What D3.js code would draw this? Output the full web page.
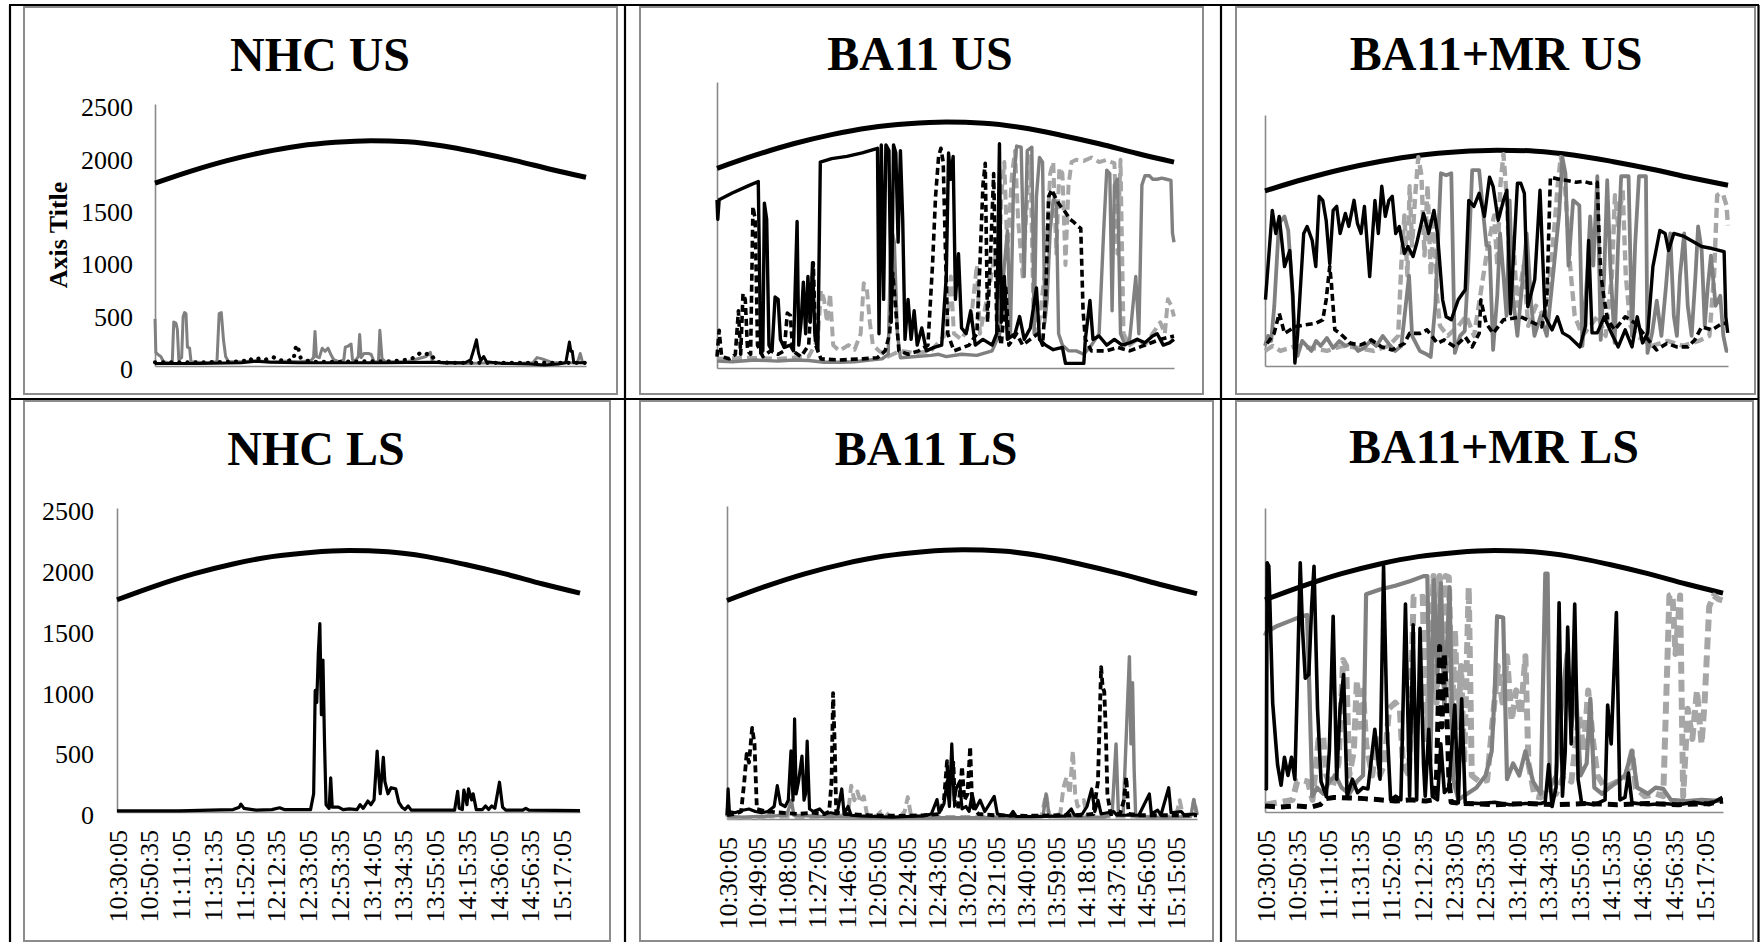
<!DOCTYPE html>
<html>
<head>
<meta charset="utf-8">
<script src="https://cdn.jsdelivr.net/npm/d3@7"></script>
<style>
  html, body { margin: 0; padding: 0; background: #fff; }
  svg { display: block; }
</style>
</head>
<body>
<svg id="chart" width="1760" height="942"></svg>
<script>
// Time is in minutes after 10:30:05; values in W/m².
const timeDomain = [0, 299];
const yTicks = [0, 500, 1000, 1500, 2000, 2500];

const labelsA = ["10:30:05","10:50:35","11:11:05","11:31:35","11:52:05","12:12:35","12:33:05","12:53:35",
  "13:14:05","13:34:35","13:55:05","14:15:35","14:36:05","14:56:35","15:17:05"];
const labelsB = ["10:30:05","10:49:05","11:08:05","11:27:05","11:46:05","12:05:05","12:24:05","12:43:05",
  "13:02:05","13:21:05","13:40:05","13:59:05","14:18:05","14:37:05","14:56:05","15:15:05"];

// Clear-sky reference curve shared by every panel
const clearSky = [[0,1745],[25,1860],[50,1960],[75,2040],[100,2100],[125,2135],[150,2150],[175,2140],
  [200,2100],[225,2035],[250,1960],[275,1875],[299,1800]];

// ---- NHC US ----
const nhcUsGrey = [[0,450],[0.6,130],[2,110],[4,90],[6,40],[10,30],[12,40],[13,420],[14.5,410],[15.5,350],[16.5,60],
  [18.5,80],[19.5,470],[20.5,510],[21.5,500],[22.5,180],[24,170],[25,40],[35,30],[43,40],[44.5,500],[46,510],[47.5,250],
  [49,90],[51,40],[60,40],[70,50],[80,40],[90,45],[100,40],[108,50],[110,80],[111,330],[112,90],[114,80],[116,170],
  [118,140],[120,170],[122,110],[124,60],[128,40],[131,60],[132,180],[134,190],[136,210],[137,60],[139,50],[141,90],
  [142,300],[143,80],[145,120],[148,120],[150,110],[152,40],[155,40],[156,340],[157.5,70],[160,40],[175,40],[188,90],
  [191,130],[192.5,40],[200,25],[215,25],[235,30],[250,25],[262,30],[265,80],[268,70],[272,50],[276,30],[285,30],
  [293,30],[295,120],[296.5,40],[299,20]];
const nhcUsBlack = [[0,25],[30,25],[60,30],[70,45],[80,35],[100,30],[130,30],[160,30],[190,35],[215,30],[219,60],
  [221,150],[223,250],[224.5,120],[226,50],[228,90],[230,40],[240,25],[260,20],[270,10],[280,20],[285,30],[286.5,150],
  [287.5,230],[288.5,140],[289.5,140],[290.5,30],[299,30]];
const nhcUsDot = [[0,35],[30,35],[55,40],[62,50],[65,75],[68,50],[72,70],[75,55],[79,70],[82,85],[86,55],[92,50],
  [96,60],[98,200],[99.5,160],[101,80],[104,55],[110,40],[130,40],[150,45],[165,45],[175,60],[180,80],[184,125],
  [187,110],[190,120],[192,100],[195,40],[205,30],[230,30],[260,30],[299,30]];

// ---- BA11 US ----
const ba11UsBlack = [[0,1470],[0.5,1300],[1.4,1470],[10,1530],[20,1590],[27,1630],[28.6,130],[30,150],[31,1440],
  [32.5,1300],[34,200],[36,150],[38,620],[40,600],[41.5,250],[44,180],[48,200],[50,150],[52.4,1280],[53.5,200],[55,400],
  [56.5,750],[58,300],[59.5,800],[61,400],[62.5,920],[64,300],[66,150],[67.6,1800],[75,1830],[85,1850],[95,1880],
  [100,1900],[105,1920],[106,300],[107.5,1950],[109,600],[110.5,1950],[112.5,1900],[114,400],[115.5,1950],[117,1880],
  [118.5,1100],[120,1900],[121.5,1300],[123,250],[125,600],[127,250],[129,500],[131,200],[134,350],[137,150],[142,180],
  [147,200],[150,800],[151.5,1880],[153,1650],[154.5,1850],[156,600],[158,1000],[160,350],[163,300],[166,500],
  [169,200],[174,250],[180,200],[183,300],[184.8,1960],[186,400],[188,800],[190,250],[195,300],[198,450],[201,250],
  [205,350],[209,700],[211,250],[215,200],[220,160],[226,180],[228,40],[234,40],[240,40],[241,250],[244,590],[246,250],
  [250,280],[255,200],[260,250],[265,200],[270,220],[275,250],[280,220],[285,280],[288,300],[292,200],[296,220],[299,250]];
const ba11UsDash = [[0,100],[1.4,330],[3,100],[8,80],[12,120],[14,500],[15.5,120],[17,650],[18.5,600],[20,150],
  [22,120],[23.5,1410],[25,1300],[26.5,200],[30,100],[35,150],[40,120],[44,150],[46,480],[48,460],[49.5,150],[55,100],
  [60,200],[63,920],[64.5,200],[68,80],[80,70],[95,80],[105,90],[110,150],[113,300],[115,830],[117,500],[119,150],
  [125,120],[132,150],[138,200],[141,900],[143,1500],[145,1850],[146.5,1920],[148,1800],[149.5,1000],[151,300],
  [155,150],[165,200],[170,300],[172,900],[174,1600],[175.5,1790],[177,400],[179,1000],[181,1700],[183,400],[186,200],
  [189,700],[191,200],[196,300],[200,200],[205,250],[210,300],[213,200],[215,600],[217,1500],[219,1560],[221,1500],
  [223,1450],[225,1410],[227,1380],[229,1340],[231,1300],[233,1280],[236,1240],[238,1220],[239.5,500],[241,250],
  [245,150],[255,150],[262,180],[270,150],[280,200],[290,250],[299,280]];
const ba11UsGrey = [[0,60],[10,55],[25,70],[40,60],[50,70],[60,65],[70,50],[80,50],[90,55],[100,70],[108,80],
  [112,120],[114,1230],[116,1100],[118,300],[120,90],[130,100],[140,110],[145,120],[150,100],[160,120],[170,110],
  [180,150],[185,300],[188,900],[190,1200],[192,300],[194,1600],[196,1940],[199,1930],[201,800],[203,1900],[206,1930],
  [207.5,300],[209,1500],[211,1840],[213,1800],[214.5,400],[216,600],[218,1200],[220,1470],[222,1450],[223.5,300],
  [226,200],[230,150],[235,150],[240,120],[245,200],[250,300],[253,1200],[255,1730],[257,1700],[258.5,500],[260,1600],
  [262,1650],[264,300],[267,200],[270,250],[274,800],[276,300],[278,1600],[280,1680],[283,1680],[285,1650],[288,1650],
  [291,1660],[294,1650],[297,1640],[298,1180],[299,1100]];
const ba11UsLtDash = [[0,80],[20,90],[40,80],[60,100],[66,250],[68,680],[70,600],[72,400],[74,650],[76,200],[80,150],
  [86,200],[90,160],[94,300],[96,740],[98,700],[100,400],[102,200],[106,150],[112,100],[120,150],[130,130],[140,150],
  [150,300],[153,800],[155,300],[160,250],[166,400],[170,900],[172,300],[178,700],[182,1000],[184,600],[186,1500],
  [188,1800],[190,1000],[193,1700],[195,1900],[197,1300],[200,800],[203,1500],[205,1850],[207,500],[210,300],[215,900],
  [218,1700],[220,1800],[222,1000],[224,1750],[226,1700],[228,900],[230,1600],[232,1800],[235,1820],[240,1810],
  [245,1840],[250,1800],[255,1820],[258,1800],[260,1790],[262,1000],[264,1820],[266,300],[270,200],[275,250],[280,200],
  [285,300],[290,400],[293,300],[295,600],[297,550],[299,450]];

// ---- BA11+MR US ----
const ba11mrUsBlack = [[0.3,660],[4.7,1550],[7,1320],[9.2,1490],[12.6,990],[16,1150],[18,700],[19.3,30],[21,300],
  [25,1320],[27.2,1390],[30.5,1250],[32.8,990],[35,1690],[37.3,1650],[39.5,1450],[41.8,1020],[44,1550],[46.3,1590],
  [48.5,1320],[51.9,1520],[54.1,1390],[57.5,1650],[59.7,1420],[62,1320],[64.2,1590],[67.6,890],[71,1650],[73.2,1320],
  [75.4,1790],[77.7,1490],[80,1650],[82.2,1690],[84.4,1320],[86.7,1390],[90,1120],[92.3,1190],[95.6,1090],[97.9,1220],
  [102.4,1520],[105.7,1320],[109.1,1550],[111.4,1320],[114.7,660],[117,490],[120.3,460],[124.8,660],[129.3,760],
  [131.6,1650],[134.9,1590],[138.3,1720],[141.7,1490],[145,1880],[147.3,1790],[150.6,1450],[154,1650],[156.2,1750],
  [158.5,520],[163,1820],[165.2,1820],[167.5,1720],[169.7,590],[174.2,860],[177.6,1750],[180.9,490],[185.4,360],
  [188.8,490],[192.2,330],[196.6,290],[203.4,190],[207,400],[209,1250],[211.2,330],[214.6,330],[219.1,490],[223.6,330],
  [228.1,190],[232.6,360],[237,190],[240.4,490],[243.8,230],[247.2,330],[250.5,990],[255,1350],[258.4,1320],
  [260.6,1150],[264,1320],[270.7,1290],[275.2,1250],[282,1190],[288.7,1170],[296.5,1140],[297.6,490],[298.8,330]];
const ba11mrUsDash = [[1.4,225],[5.9,325],[9.2,525],[12.6,325],[19.3,390],[26.1,410],[32.8,425],[37.3,460],[39.5,660],
  [41.8,990],[42.9,820],[45.1,360],[48.5,325],[55.2,225],[62,210],[68.7,260],[75.4,190],[82.2,160],[90,225],[93.4,325],
  [100.1,325],[104.6,360],[111.4,225],[115.8,260],[122.6,190],[129.3,290],[133.8,190],[138.3,325],[139.4,660],
  [142.8,425],[147.3,325],[154,460],[165.2,490],[178.7,390],[182,660],[184.3,1880],[189.9,1860],[194.4,1850],
  [201.1,1830],[205.6,1840],[210.1,1820],[214.6,1830],[215.7,1320],[216.8,920],[219.1,660],[221.3,460],[225.8,360],
  [232.6,490],[239.3,425],[246,290],[252.8,160],[259.5,225],[266.2,190],[273,190],[277.5,260],[282,390],[288.7,360],
  [295.4,425],[298.8,425]];
const ba11mrUsGrey = [[0,200],[2,300],[4,250],[6,600],[9,1420],[12.6,1490],[15,1350],[17,900],[19,400],[21,100],
  [24,250],[27,200],[30,150],[33,250],[36,200],[40,280],[44,180],[48,250],[52,200],[56,230],[60,150],[64,180],[68,250],
  [72,200],[76,300],[80,220],[84,150],[88,200],[93,900],[95,300],[100,150],[104,120],[107,90],[110,600],[113.6,1920],
  [117,1900],[120.3,1920],[122.6,130],[126,300],[129,350],[131,900],[133.8,1950],[138.3,1950],[140.5,1590],[143,1200],
  [145,1190],[147.3,160],[150,700],[151.8,1320],[154,900],[156,500],[158,1650],[160,700],[163,300],[166,800],
  [169,1320],[172,600],[174,300],[178,500],[182,300],[186,900],[190,1520],[192,2080],[194,1920],[196,1000],[199,1650],
  [203,1600],[205,200],[208,900],[210,1490],[212,1000],[214.6,1890],[216.8,260],[219,900],[221,1850],[223,1000],
  [225.8,230],[228,1200],[230,1890],[234.8,1890],[237,300],[239,1200],[241.5,1890],[246,1890],[247,130],[250,330],
  [253,650],[256,300],[259,800],[261.7,1320],[264,500],[266,300],[268,900],[270.7,1320],[273,600],[275.5,300],
  [278,900],[279.7,1390],[282,1150],[284,400],[286,800],[288,1100],[291,600],[294,700],[296,300],[298,150],[299,150]];
const ba11mrUsLtDash = [[0,150],[5,200],[10,150],[20,200],[30,180],[40,150],[50,200],[60,180],[70,150],[80,200],
  [86,300],[88,1000],[90,1500],[92,900],[93.4,1790],[95,1200],[97,1700],[99,2080],[101,1900],[103,1100],[105,1800],
  [107,900],[109,1500],[111,700],[113,400],[118,300],[125,400],[130,500],[135,300],[140,800],[144,1200],[148,1500],
  [150,1000],[152,1800],[154,2110],[156,1700],[158,1000],[160,1300],[163,600],[167,1000],[170,400],[175,600],
  [180,500],[184,900],[187,1400],[189,1800],[191,2080],[193,1950],[195,1500],[197,1000],[200,500],[205,300],[210,400],
  [215,500],[220,300],[224,900],[226,1700],[228,1400],[231,1750],[233,900],[236,400],[240,300],[250,200],[260,250],
  [270,200],[280,250],[287,300],[290,900],[292,1700],[294,1720],[296,1700],[298,1600],[299,1400]];

// ---- NHC LS ----
const nhcLsBlack = [[0,10],[40,10],[60,15],[75,20],[79,40],[80,65],[82,30],[90,15],[100,20],[105,35],[108,20],
  [125,20],[127,150],[128,1000],[129,900],[130,1300],[131,1550],[132,800],[133,1250],[134,580],[135,60],[137,30],
  [138,280],[139,40],[143,40],[146,20],[150,25],[155,20],[157,60],[159,30],[162,90],[164,60],[166,100],[168,500],
  [169,300],[170,150],[172,450],[173,250],[175,150],[177,200],[180,190],[182,80],[184,40],[186,20],[188,50],[190,15],
  [218,15],[220,170],[221,30],[223,20],[224,180],[226,60],[227,190],[229,100],[230,150],[232,20],[236,20],[238,50],
  [240,20],[242,50],[244,30],[247,245],[249,40],[251,15],[262,15],[264,30],[266,15],[299,12]];

// ---- BA11 LS ----
const ba11LsBlack = [[0,30],[0.7,240],[1.5,60],[5,50],[10,70],[14,80],[18,60],[22,50],[26,60],[30,100],[32,266],
  [34,120],[37,100],[39,150],[40.7,545],[42,150],[43,800],[44,200],[45.5,300],[47.7,503],[49,150],[50,200],[51,623],
  [52.5,80],[55,60],[59,80],[62,40],[66,50],[70,40],[73,240],[74.5,40],[77,100],[79,30],[85,25],[95,20],[105,15],
  [115,20],[125,25],[130,40],[133.6,155],[135,50],[138,120],[140,300],[141.5,100],[143,600],[144.5,150],[146,250],
  [148,300],[149.5,80],[152,100],[154,60],[156,200],[158,80],[161,150],[164,60],[167,120],[170,180],[172,40],[176,30],
  [180,25],[182,60],[184,20],[200,20],[215,25],[219,80],[221,30],[226,40],[229,100],[232,240],[234,60],[236,150],
  [238,40],[246,60],[248,30],[262,30],[268.7,200],[270,40],[274,70],[276,30],[281,250],[282.5,50],[289,60],[291,30],
  [297,40],[299,30]];
const ba11LsDash = [[0,30],[5,40],[9,60],[11,300],[12.5,520],[14,450],[16,727],[17.5,600],[19,80],[25,60],[35,50],
  [45,40],[55,50],[62,40],[65,60],[66.5,300],[67.5,1006],[68.5,600],[69.5,50],[75,40],[90,30],[110,25],[125,30],
  [135,40],[138,150],[140,463],[141,250],[142,400],[143,300],[144,450],[145,100],[147,80],[148.5,250],[149.5,420],
  [151,150],[153,200],[154.7,578],[156,100],[160,40],[170,30],[190,25],[210,30],[225,30],[233,40],[236,300],
  [238,1213],[239,1050],[240,1018],[241,700],[242,200],[244,40],[250,40],[252.5,150],[254,335],[255.5,40],[262,30],
  [280,30],[299,30]];
const ba11LsGrey = [[0,20],[0.7,150],[1.5,20],[10,15],[20,20],[30,25],[38,30],[41,150],[42.5,30],[60,20],[80,15],
  [100,10],[130,10],[160,10],[190,10],[201,20],[203,200],[205,20],[220,15],[240,15],[245,40],[247.5,600],[249,40],
  [252,30],[256,1297],[257,600],[258,1088],[259,400],[260,20],[270,15],[285,15],[295,20],[297,155],[299,30]];
const ba11LsLtDash = [[0,10],[20,10],[25,20],[26,60],[27,20],[50,15],[70,20],[77,40],[79,266],[81,150],[83,220],
  [85,130],[87,180],[89,40],[95,20],[98,60],[101,50],[104,20],[110,15],[113,60],[115,175],[117,30],[125,15],[140,15],
  [160,15],[180,15],[200,20],[203,200],[205,20],[212,40],[214,250],[216,335],[218,200],[220,545],[221.5,200],
  [223,100],[227,150],[229,30],[240,20],[260,20],[280,15],[286,40],[288,150],[290,30],[296,40],[297,150],[299,40]];

// ---- BA11+MR LS ----
const ba11mrLsBlack = [[0,200],[0.9,190],[1.4,2050],[2.5,2020],[5,900],[7.1,560],[8.2,390],[10.5,220],[12.7,450],
  [15,300],[17.3,450],[19.5,270],[21,1000],[23,2050],[24.5,1500],[26.3,1100],[28.6,1130],[30.5,1700],[32,2020],
  [34.3,850],[36.6,250],[40,130],[42,500],[44.5,1610],[46.8,270],[49,850],[51.3,1130],[53.6,130],[57,270],[60.4,160],
  [64,200],[67.2,190],[71.7,680],[75.1,270],[77.4,2020],[79.7,700],[82,100],[85.3,130],[88.7,100],[91.7,1710],
  [94.4,130],[96.7,1540],[99,100],[101.2,1510],[103.5,390],[104.6,130],[106.9,680],[109.2,130],[112.6,100],
  [114.8,560],[117.1,160],[120,200],[123.9,880],[126.2,75],[128.4,930],[130.7,75],[140,70],[150,80],[160,60],
  [170,70],[180,70],[182.9,80],[185.2,390],[187.4,45],[190,200],[192,1720],[194.2,130],[196,500],[197.6,1520],
  [199.9,560],[202.2,1710],[204.4,270],[206.7,75],[215,60],[222,100],[223.7,880],[226,560],[229.4,1640],[231.7,100],
  [235,120],[237.3,320],[239.6,75],[250,60],[260,70],[270,60],[280,80],[290,60],[298.6,120]];
const ba11mrLsDash = [[0,50],[10,40],[20,50],[30,40],[36,60],[40,110],[45,120],[55,115],[65,110],[75,100],[85,90],
  [95,100],[105,90],[110,100],[112,300],[114,1360],[115.5,700],[117,1300],[118.5,900],[120,300],[121.5,80],[130,70],
  [150,60],[170,70],[190,60],[210,70],[230,60],[250,70],[270,60],[290,70],[299,90]];
const ba11mrLsGrey = [[0,1450],[0.9,1480],[8,1530],[16,1570],[24,1610],[27.5,1620],[29,1000],[30.9,130],[34,200],
  [38,150],[42,250],[46,300],[50,200],[55,150],[60,250],[64,300],[66,1790],[75,1830],[85,1860],[95,1900],[103.5,1940],
  [106,1940],[108,420],[110.3,1910],[112.6,1140],[114.8,1880],[117.1,850],[120.5,1850],[122.8,270],[126.2,100],
  [132,150],[138,200],[144,300],[148,500],[150,1000],[151.5,1610],[155.5,1600],[158,270],[162,400],[166,300],
  [170,500],[175,250],[180,150],[183,1960],[184.5,1960],[186,200],[190,300],[194,900],[197,1300],[200,700],[203,1000],
  [206,300],[210,400],[212.4,930],[215,200],[220,150],[225,200],[230,250],[235,300],[239.6,500],[243,200],[250,150],
  [255,200],[260,190],[265,100],[275,90],[285,100],[299,90]];
const ba11mrLsLtDash = [[0,60],[10,80],[18,100],[21,250],[25,260],[28,250],[31,100],[35,600],[38,620],[40,300],
  [44,200],[48,400],[51,1250],[53,1200],[55,300],[58,500],[60,1080],[62,700],[64,1000],[66,560],[70,300],[73,600],
  [75,300],[78,400],[81,850],[85,900],[88,850],[90,400],[94,300],[97,1770],[100,1760],[103,1770],[105,600],[108,1200],
  [110,1940],[112,900],[114,1940],[116,1200],[118,1940],[120,1930],[122,800],[124,1500],[126,700],[128,1200],[130,400],
  [133,1850],[135,300],[140,250],[145,260],[149,800],[152,1200],[155,900],[158,1280],[161,750],[164,1000],[167,800],
  [170,1280],[172,400],[176,130],[180,120],[184,200],[190,150],[195,300],[200,250],[205,800],[208,500],[211,1000],
  [214,600],[217,300],[222,200],[230,250],[236,300],[239.6,500],[242,200],[248,130],[255,150],[260,130],[264,1780],
  [266,1790],[268,1300],[271,1780],[273,130],[276,850],[279,600],[282,1000],[285,560],[287,900],[290,1690],[293,1780],
  [296,1750],[298.6,1740]];

// Line styles
const styles = {
  curve:  { stroke: "#000",    width: 5 },
  black:  { stroke: "#000",    width: 3 },
  dash:   { stroke: "#000",    width: 3.6, dash: "7 4" },
  dot:    { stroke: "#000",    width: 4.2, dash: "0.1 8", cap: "round" },
  grey:   { stroke: "#808080", width: 3.4 },
  ltdash: { stroke: "#a6a6a6", width: 4,   dash: "10 5" }
};

const panels = [
  { title: "NHC US", frame: [24, 7, 617, 394], px: [155, 586], py: [366, 104], title_xy: [320, 71],
    yLabels: 22, axisTitle: true,
    series: [[nhcUsGrey, "grey", 3], [nhcUsDot, "dot"], [nhcUsBlack, "black"]] },
  { title: "BA11 US", frame: [640, 7, 1203, 394], px: [717, 1174], py: [368, 82], title_xy: [920, 70],
    series: [[ba11UsLtDash, "ltdash"], [ba11UsGrey, "grey"], [ba11UsDash, "dash"], [ba11UsBlack, "black", 3.4]] },
  { title: "BA11+MR US", frame: [1236, 7, 1755, 394], px: [1265, 1728], py: [366, 115], title_xy: [1496, 70],
    series: [[ba11mrUsLtDash, "ltdash", 4.4], [ba11mrUsGrey, "grey", 3.8], [ba11mrUsDash, "dash"], [ba11mrUsBlack, "black", 3.4]] },
  { title: "NHC LS", frame: [24, 401, 610, 941], px: [117, 580], py: [812, 508], title_xy: [316, 465],
    yLabels: 23, xLabels: labelsA,
    series: [[nhcLsBlack, "black", 3.2]] },
  { title: "BA11 LS", frame: [640, 401, 1213, 941], px: [727, 1197], py: [819, 506], title_xy: [926, 465],
    xLabels: labelsB,
    series: [[ba11LsLtDash, "ltdash"], [ba11LsGrey, "grey"], [ba11LsDash, "dash", 3.8], [ba11LsBlack, "black", 3.2]] },
  { title: "BA11+MR LS", frame: [1236, 401, 1753, 941], px: [1265, 1723], py: [812, 508], title_xy: [1494, 463],
    xLabels: labelsA,
    series: [[ba11mrLsLtDash, "ltdash", 6, "12 6"], [ba11mrLsGrey, "grey", 4.2], [ba11mrLsDash, "dash", 5, "10 6"], [ba11mrLsBlack, "black", 3.6]] }
];

const svg = d3.select("#chart");
const serif = "'Liberation Serif', 'Times New Roman', serif";

function toMinutes(label) {
  const [h, m, s] = label.split(":").map(Number);
  return (h * 3600 + m * 60 + s - (10 * 3600 + 30 * 60 + 5)) / 60;
}

panels.forEach(p => {
  const g = svg.append("g");
  const [fx0, fy0, fx1, fy1] = p.frame;
  g.append("rect")
    .attr("x", fx0).attr("y", fy0)
    .attr("width", fx1 - fx0).attr("height", fy1 - fy0)
    .attr("fill", "none").attr("stroke", "#8c8c8c").attr("stroke-width", 2);

  g.append("text")
    .attr("x", p.title_xy[0]).attr("y", p.title_xy[1])
    .attr("text-anchor", "middle")
    .style("font-family", serif).style("font-weight", "bold").style("font-size", "48px")
    .text(p.title);

  const x = d3.scaleLinear().domain(timeDomain).range(p.px);
  const y = d3.scaleLinear().domain([0, 2500]).range(p.py);

  // Y axis
  const yAxis = d3.axisLeft(y).tickSizeOuter(0).tickSizeInner(0).tickFormat(d3.format("d"));
  if (p.yLabels) yAxis.tickValues(yTicks).tickPadding(p.yLabels);
  else yAxis.tickValues([]);
  const ya = g.append("g").attr("transform", `translate(${p.px[0]},0)`).call(yAxis);
  ya.select(".domain").attr("stroke", "#8a8a8a").attr("stroke-width", 1.6);
  ya.selectAll("text")
    .attr("dy", "0.45em")
    .style("font-family", serif).style("font-size", "26px").attr("fill", "#000");

  // X axis
  const xAxis = d3.axisBottom(x).tickSizeOuter(0).tickSizeInner(0);
  if (p.xLabels) xAxis.tickValues(p.xLabels.map(toMinutes)).tickFormat((d, i) => p.xLabels[i]);
  else xAxis.tickValues([]);
  const xa = g.append("g").attr("transform", `translate(0,${p.py[0]})`).call(xAxis);
  xa.select(".domain").attr("stroke", "#8a8a8a").attr("stroke-width", 1.6);
  xa.selectAll("text")
    .attr("transform", "rotate(-90)")
    .attr("x", -18).attr("y", 0).attr("dy", "0.35em")
    .attr("text-anchor", "end")
    .style("font-family", serif).style("font-size", "26px").attr("fill", "#000");

  if (p.axisTitle) {
    g.append("text")
      .attr("transform", "translate(58,235) rotate(-90)")
      .attr("text-anchor", "middle").attr("dy", "0.35em")
      .style("font-family", serif).style("font-weight", "bold").style("font-size", "26px")
      .text("Axis Title");
  }

  const line = d3.line().x(d => x(d[0])).y(d => y(d[1]));
  const smooth = d3.line().x(d => x(d[0])).y(d => y(d[1])).curve(d3.curveMonotoneX);

  g.append("path").datum(clearSky)
    .attr("d", smooth).attr("fill", "none")
    .attr("stroke", styles.curve.stroke).attr("stroke-width", styles.curve.width);

  p.series.forEach(([data, key, w, dash]) => {
    const st = styles[key];
    g.append("path").datum(data)
      .attr("d", line).attr("fill", "none")
      .attr("stroke", st.stroke)
      .attr("stroke-width", w || st.width)
      .attr("stroke-dasharray", dash || st.dash || null)
      .attr("stroke-linecap", st.cap || "butt")
      .attr("stroke-linejoin", "round");
  });
});

// Table rules separating the six panels
const rules = [
  [10, 5, 10, 942], [9, 5, 1759, 5], [1758.5, 5, 1758.5, 942],
  [625, 5, 625, 942], [1221, 5, 1221, 942], [10, 399, 1759, 399]
];
svg.append("g").selectAll("line").data(rules).join("line")
  .attr("x1", d => d[0]).attr("y1", d => d[1]).attr("x2", d => d[2]).attr("y2", d => d[3])
  .attr("stroke", "#000").attr("stroke-width", 2.2);
</script>
</body>
</html>
